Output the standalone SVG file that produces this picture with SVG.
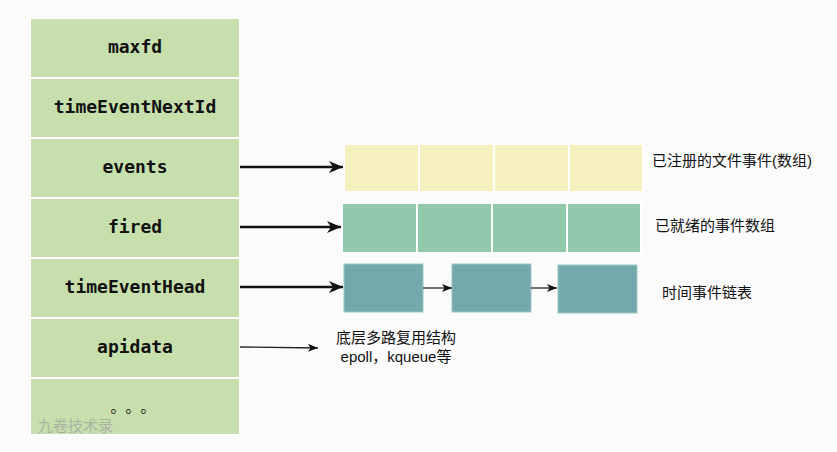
<svg xmlns="http://www.w3.org/2000/svg" width="837" height="452" viewBox="0 0 837 452">
<defs>
<style>
.cell{fill:#c6dfac;stroke:#ffffff;stroke-width:2}
.lbl{font-family:"DejaVu Sans Mono",monospace;font-weight:bold;font-size:18px;fill:#111;text-anchor:middle}
.yc{fill:#f5f0be;stroke:#ffffff;stroke-width:2}
.gc{fill:#91c9ad;stroke:#ffffff;stroke-width:2}
.tc{fill:#74a9ab;stroke:#9cc8c6;stroke-width:1}
.cn{font-family:"Liberation Sans","Noto Sans CJK SC",sans-serif;font-size:15px;fill:#111}
.dot{font-family:"Noto Sans CJK SC",sans-serif;font-size:15px;fill:#111;text-anchor:middle}
.thick{stroke:#111;stroke-width:2.5;fill:none}
.thin{stroke:#222;stroke-width:1.3;fill:none}
</style>
<marker id="ah" markerUnits="userSpaceOnUse" markerWidth="16" markerHeight="14" refX="15" refY="7" orient="auto">
<path d="M1,1 L15,7 L1,13 L5,7 Z" fill="#111"/>
</marker>
<marker id="as" markerUnits="userSpaceOnUse" markerWidth="12" markerHeight="10" refX="11" refY="5" orient="auto">
<path d="M1,1 L11,5 L1,9 L3.5,5 Z" fill="#111"/>
</marker>
</defs>
<rect x="0" y="0" width="837" height="452" fill="#fbfbfb"/>

<g id="maxfd"><rect class="cell" x="30" y="18" width="210" height="60"/><text class="lbl" x="135" y="53">maxfd</text></g>
<g id="timeEventNextId"><rect class="cell" x="30" y="78" width="210" height="60"/><text class="lbl" x="135" y="113">timeEventNextId</text></g>
<g id="events"><rect class="cell" x="30" y="138" width="210" height="60"/><text class="lbl" x="135" y="173">events</text></g>
<g id="fired"><rect class="cell" x="30" y="198" width="210" height="60"/><text class="lbl" x="135" y="233">fired</text></g>
<g id="timeEventHead"><rect class="cell" x="30" y="258" width="210" height="60"/><text class="lbl" x="135" y="293">timeEventHead</text></g>
<g id="apidata"><rect class="cell" x="30" y="318" width="210" height="60"/><text class="lbl" x="135" y="353">apidata</text></g>
<g id="more"><rect class="cell" x="30" y="378" width="210" height="57"/>
<text class="dot" x="118" y="412">。</text><text class="dot" x="133" y="412">。</text><text class="dot" x="148" y="412">。</text>
<text x="38" y="431" font-family="'Noto Sans CJK SC',sans-serif" font-size="15" fill="#a9b3a3">九卷技术录</text></g>

<g id="events-array">
<rect class="yc" x="344" y="144" width="75" height="48"/>
<rect class="yc" x="419" y="144" width="75" height="48"/>
<rect class="yc" x="494" y="144" width="75" height="48"/>
<rect class="yc" x="569" y="144" width="74" height="48"/>
<text class="cn" x="652" y="166">已注册的文件事件(数组)</text>
</g>
<g id="fired-array">
<rect class="gc" x="342" y="203" width="75" height="50"/>
<rect class="gc" x="417" y="203" width="75" height="50"/>
<rect class="gc" x="492" y="203" width="75" height="50"/>
<rect class="gc" x="567" y="203" width="74" height="50"/>
<text class="cn" x="655" y="231">已就绪的事件数组</text>
</g>
<g id="time-list">
<rect class="tc" x="344" y="264" width="79" height="48"/>
<rect class="tc" x="452" y="264" width="79" height="48"/>
<rect class="tc" x="558" y="265" width="79" height="48"/>
<text class="cn" x="662" y="298">时间事件链表</text>
</g>
<g id="apidata-note">
<text class="cn" x="396" y="343" text-anchor="middle">底层多路复用结构</text>
<text class="cn" x="396" y="362" text-anchor="middle">epoll，kqueue等</text>
</g>

<g id="connectors">
<line class="thick" x1="240" y1="167" x2="343" y2="167" marker-end="url(#ah)"/>
<line class="thick" x1="240" y1="227" x2="341" y2="227" marker-end="url(#ah)"/>
<line class="thick" x1="240" y1="287" x2="343" y2="287" marker-end="url(#ah)"/>
<line class="thin" x1="240" y1="347" x2="318" y2="348" marker-end="url(#as)"/>
<line class="thin" x1="423" y1="288" x2="452" y2="288" marker-end="url(#as)"/>
<line class="thin" x1="531" y1="288" x2="557" y2="288" marker-end="url(#as)"/>
</g>
</svg>
